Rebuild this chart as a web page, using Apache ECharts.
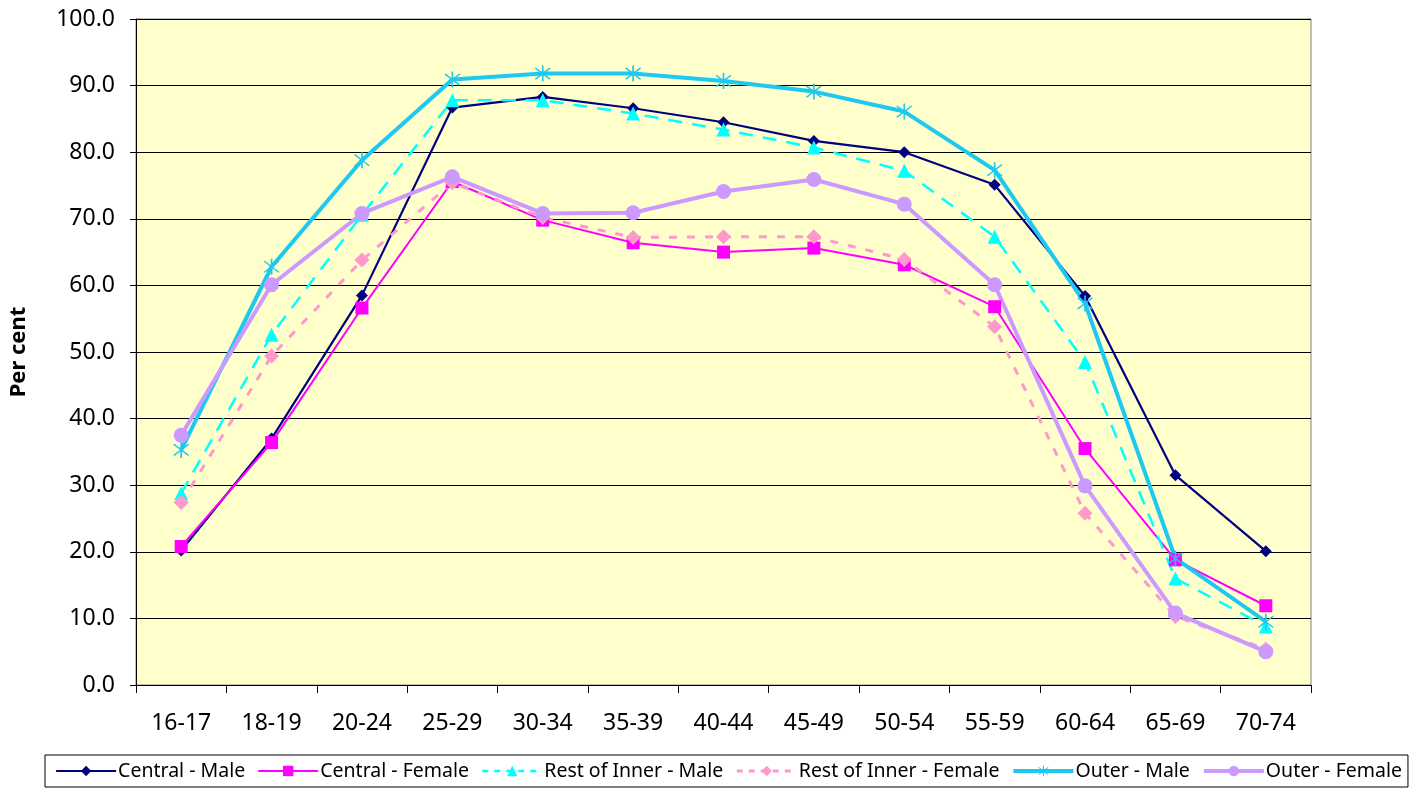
<!DOCTYPE html>
<html>
<head>
<meta charset="utf-8">
<script src="https://cdn.jsdelivr.net/npm/echarts@6/dist/echarts.min.js"></script>
<style>
	html, body { margin: 0; padding: 0; background: #fff; }
	#chart { width: 1422px; height: 789px; }
</style>
</head>
<body>
<div id="chart"></div>
<script>
// age groups along the x axis
var ageGroups = ['16-17', '18-19', '20-24', '25-29', '30-34', '35-39', '40-44', '45-49', '50-54', '55-59', '60-64', '65-69', '70-74'];

// per cent values
var centralMale = [20.2, 37.0, 58.5, 86.7, 88.3, 86.6, 84.5, 81.7, 80.0, 75.1, 58.4, 31.5, 20.1];
var centralFemale = [20.8, 36.4, 56.6, 75.6, 69.8, 66.4, 65.0, 65.6, 63.1, 56.8, 35.5, 18.8, 11.9];
var restInnerMale = [28.8, 52.6, 70.6, 87.8, 87.8, 85.8, 83.4, 80.7, 77.2, 67.3, 48.5, 16.0, 8.8];
var restInnerFemale = [27.4, 49.4, 63.8, 75.4, 70.2, 67.2, 67.3, 67.3, 63.9, 53.8, 25.8, 10.3, 5.4];
var outerMale = [35.3, 62.8, 78.8, 90.9, 91.8, 91.8, 90.7, 89.1, 86.1, 77.3, 57.3, 19.0, 9.5];
var outerFemale = [37.5, 60.1, 70.8, 76.3, 70.8, 70.9, 74.1, 75.9, 72.2, 60.1, 29.9, 10.8, 5.0];

var FONT = 'Noto Sans';

// asterisk marker: vertical bar plus two diagonals
var asterisk = 'path://M9.2,0 L10.8,0 L10.8,20 L9.2,20 Z ' +
	'M3.5,2.4 L17.6,16.5 L16.5,17.6 L2.4,3.5 Z ' +
	'M16.5,2.4 L17.6,3.5 L3.5,17.6 L2.4,16.5 Z';

var styles = [
	// name, data, colour, width, dash, symbol, size
	['Central - Male', centralMale, '#000080', 2.2, 'solid', 'diamond', 12],
	['Central - Female', centralFemale, '#FF00FF', 2, 'solid', 'rect', 13],
	['Rest of Inner - Male', restInnerMale, '#00FFFF', 2.5, [14, 10], 'triangle', 14],
	['Rest of Inner - Female', restInnerFemale, '#FF99CC', 3, [8, 10], 'diamond', 15],
	['Outer - Male', outerMale, '#1EC8F0', 4, 'solid', asterisk, 16],
	['Outer - Female', outerFemale, '#CC99FF', 4, 'solid', 'circle', 15]
];

var series = styles.map(function (s) {
	return {
		name: s[0],
		type: 'line',
		data: s[1],
		symbol: s[5],
		symbolSize: s[6],
		showAllSymbol: true,
		lineStyle: { color: s[2], width: s[3], type: s[4] },
		itemStyle: { color: s[2], borderWidth: 0 },
		emphasis: { disabled: true },
		z: 3
	};
});

var legendData = styles.map(function (s) {
	return {
		name: s[0],
		lineStyle: { color: s[2], width: s[3], type: s[4] === 'solid' ? 'solid' : [6, 6] }
	};
});

var chart = echarts.init(document.getElementById('chart'));

var option = {
	animation: false,
	backgroundColor: '#ffffff',
	textStyle: { fontFamily: FONT },
	grid: {
		left: 135,
		right: 111,
		top: 19,
		bottom: 104,
		show: true,
		backgroundColor: '#FFFFCC',
		borderColor: '#808080',
		borderWidth: 1
	},
	legend: {
		bottom: 2,
		left: 45,
		width: 1400,
		padding: [6, 6, 6, 10],
		itemGap: 12,
		itemWidth: 60,
		itemHeight: 13,
		borderColor: '#000',
		borderWidth: 1,
		textStyle: { fontFamily: FONT, fontSize: 19.5, color: '#000', padding: [0, 0, 0, -3] },
		data: legendData
	},
	xAxis: {
		type: 'category',
		data: ageGroups,
		boundaryGap: true,
		axisLine: { lineStyle: { color: '#000', width: 1 } },
		axisTick: { show: true, length: 8, lineStyle: { color: '#000' } },
		axisLabel: { color: '#000', fontSize: 23, margin: 27, fontFamily: FONT },
		splitLine: { show: false }
	},
	yAxis: {
		type: 'value',
		min: 0,
		max: 100,
		interval: 10,
		name: 'Per cent',
		nameLocation: 'middle',
		nameGap: 106,
		nameTextStyle: { color: '#000', fontSize: 22, fontWeight: 'bold', fontFamily: FONT },
		axisLine: { show: true, lineStyle: { color: '#000', width: 1 } },
		axisTick: { show: true, length: 6, lineStyle: { color: '#000' } },
		axisLabel: {
			color: '#000', fontSize: 23, margin: 21, fontFamily: FONT,
			formatter: function (v) { return v.toFixed(1); }
		},
		splitLine: { show: true, lineStyle: { color: '#000', width: 1.2 } }
	},
	series: series
};

chart.setOption(option);
</script>
</body>
</html>
